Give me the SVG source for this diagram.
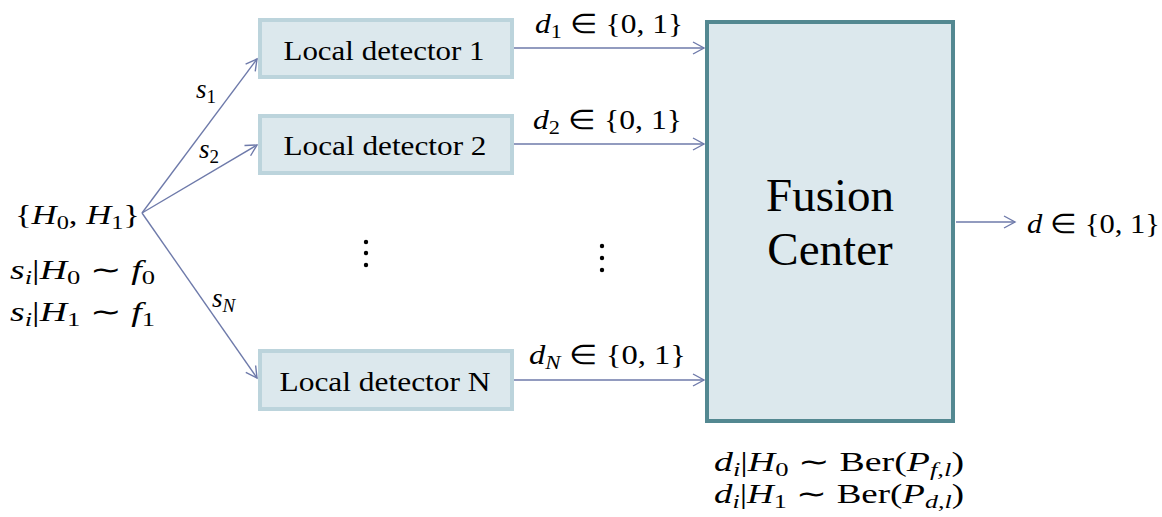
<svg xmlns="http://www.w3.org/2000/svg" width="1162" height="517" viewBox="0 0 1162 517">
<defs>
<style>
.local{fill:#dce8ed;stroke:#bcd4dc;stroke-width:4}
.fc{fill:#dce8ed;stroke:#538891;stroke-width:4}
.lbl{font-family:"Liberation Serif","Times New Roman",serif;fill:#000}
.m{font-family:"Liberation Serif","Times New Roman",serif;fill:#000;font-size:27px}
.i{font-style:italic}
.s{font-size:19px}
.conn{stroke:#6e7aaa;stroke-width:1.4;fill:none;marker-end:url(#ah)}
</style>
<marker id="ah" markerUnits="userSpaceOnUse" markerWidth="14" markerHeight="14" refX="12" refY="7" orient="auto" viewBox="0 0 14 14">
<path d="M1,1 L12,7 L1,13" fill="none" stroke="#6e7aaa" stroke-width="1.4"/>
</marker>
</defs>
<rect width="1162" height="517" fill="#fff"/>

<g id="connectors">
<line class="conn" x1="142" y1="213" x2="257" y2="59"/>
<line class="conn" x1="142" y1="213" x2="257" y2="145"/>
<line class="conn" x1="142" y1="213" x2="257" y2="378"/>
<line class="conn" x1="514" y1="48" x2="704" y2="48"/>
<line class="conn" x1="514" y1="144" x2="704" y2="144"/>
<line class="conn" x1="514" y1="380" x2="704" y2="380"/>
<line class="conn" x1="956" y1="222" x2="1015" y2="222"/>
</g>

<g id="det1">
<rect class="local" x="260" y="20" width="252" height="57"/>
<text class="lbl" x="384" y="60" font-size="28" text-anchor="middle" textLength="201" lengthAdjust="spacingAndGlyphs">Local detector 1</text>
</g>
<g id="det2">
<rect class="local" x="260" y="116" width="252" height="57"/>
<text class="lbl" x="385" y="155" font-size="28" text-anchor="middle" textLength="203" lengthAdjust="spacingAndGlyphs">Local detector 2</text>
</g>
<g id="detN">
<rect class="local" x="260" y="351" width="252" height="58"/>
<text class="lbl" x="385" y="391" font-size="28" text-anchor="middle" textLength="211" lengthAdjust="spacingAndGlyphs">Local detector N</text>
</g>

<g id="fusion">
<rect class="fc" x="707" y="22" width="246" height="399"/>
<text class="lbl" x="830" y="211" font-size="47" text-anchor="middle">Fusion</text>
<text class="lbl" x="830" y="265" font-size="47" text-anchor="middle">Center</text>
</g>

<g id="source">
<text class="m" x="15" y="224" textLength="125" lengthAdjust="spacingAndGlyphs">{<tspan class="i">H</tspan><tspan class="s" dy="5">0</tspan><tspan dy="-5">, </tspan><tspan class="i">H</tspan><tspan class="s" dy="5">1</tspan><tspan dy="-5">}</tspan></text>
<text class="m" x="10" y="279" textLength="145" lengthAdjust="spacingAndGlyphs"><tspan class="i">s</tspan><tspan class="i s" dy="5">i</tspan><tspan dy="-5">|</tspan><tspan class="i">H</tspan><tspan class="s" dy="5">0</tspan><tspan dy="-5"> ∼ </tspan><tspan class="i">f</tspan><tspan class="s" dy="5">0</tspan></text>
<text class="m" x="10" y="321" textLength="145" lengthAdjust="spacingAndGlyphs"><tspan class="i">s</tspan><tspan class="i s" dy="5">i</tspan><tspan dy="-5">|</tspan><tspan class="i">H</tspan><tspan class="s" dy="5">1</tspan><tspan dy="-5"> ∼ </tspan><tspan class="i">f</tspan><tspan class="s" dy="5">1</tspan></text>
</g>

<g id="edge-labels">
<text class="m" x="196" y="98"><tspan class="i">s</tspan><tspan class="s" dy="5">1</tspan></text>
<text class="m" x="199" y="158"><tspan class="i">s</tspan><tspan class="s" dy="5">2</tspan></text>
<text class="m" x="212" y="307"><tspan class="i">s</tspan><tspan class="i s" dy="5">N</tspan></text>
<text class="m" x="535" y="33" textLength="148" lengthAdjust="spacingAndGlyphs"><tspan class="i">d</tspan><tspan class="s" dy="5">1</tspan><tspan dy="-5"> ∈ {0, 1}</tspan></text>
<text class="m" x="533" y="129" textLength="149" lengthAdjust="spacingAndGlyphs"><tspan class="i">d</tspan><tspan class="s" dy="5">2</tspan><tspan dy="-5"> ∈ {0, 1}</tspan></text>
<text class="m" x="529" y="364" textLength="157" lengthAdjust="spacingAndGlyphs"><tspan class="i">d</tspan><tspan class="i s" dy="5">N</tspan><tspan dy="-5"> ∈ {0, 1}</tspan></text>
<text class="m" x="1027" y="233" textLength="133" lengthAdjust="spacingAndGlyphs"><tspan class="i">d</tspan> ∈ {0, 1}</text>
<text class="m" x="714" y="471" font-size="26" textLength="250" lengthAdjust="spacingAndGlyphs"><tspan class="i">d</tspan><tspan class="i s" dy="5">i</tspan><tspan dy="-5">|</tspan><tspan class="i">H</tspan><tspan class="s" dy="5">0</tspan><tspan dy="-5"> ∼ Ber(</tspan><tspan class="i">P</tspan><tspan class="i s" dy="5">f,l</tspan><tspan dy="-5">)</tspan></text>
<text class="m" x="714" y="503" font-size="26" textLength="250" lengthAdjust="spacingAndGlyphs"><tspan class="i">d</tspan><tspan class="i s" dy="5">i</tspan><tspan dy="-5">|</tspan><tspan class="i">H</tspan><tspan class="s" dy="5">1</tspan><tspan dy="-5"> ∼ Ber(</tspan><tspan class="i">P</tspan><tspan class="i s" dy="5">d,l</tspan><tspan dy="-5">)</tspan></text>
</g>

<g id="dots" fill="#000">
<circle cx="366" cy="242" r="2.2"/>
<circle cx="366" cy="253" r="2.2"/>
<circle cx="366" cy="265" r="2.2"/>
<circle cx="602" cy="246" r="2.2"/>
<circle cx="602" cy="258" r="2.2"/>
<circle cx="602" cy="270" r="2.2"/>
</g>
</svg>
